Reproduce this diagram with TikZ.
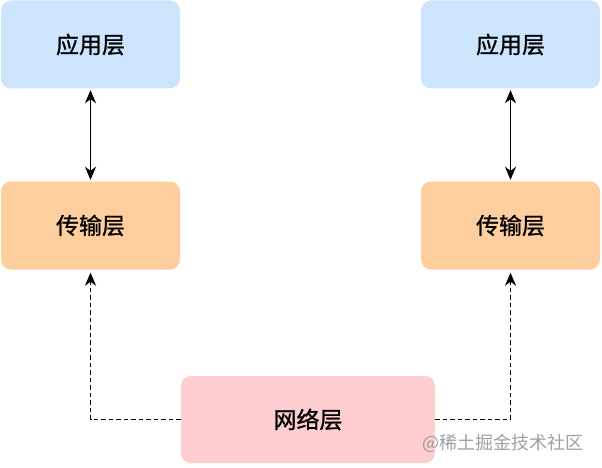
\documentclass[tikz,border=0pt]{standalone}
\usepackage{fontspec}
\setmainfont{Noto Sans CJK SC}
\newfontfamily\layerfont[FakeBold=0.9]{Noto Sans CJK SC}
\usetikzlibrary{arrows.meta,positioning}

\definecolor{appblue}{RGB}{204,228,252}
\definecolor{tcporange}{RGB}{255,206,158}
\definecolor{netpink}{RGB}{253,205,208}

\begin{document}
\begin{tikzpicture}[x=1pt,y=1pt,
  >={Stealth[length=13pt,width=11pt,inset=4pt]},
  layer/.style={rounded corners=10pt, minimum width=179pt, minimum height=88pt,
    inner sep=0pt, font=\layerfont\fontsize{23}{27}\selectfont},
  link/.style={line width=1.8pt, shorten <=1.5pt, shorten >=1.5pt}]
  \useasboundingbox (0,0) rectangle (602,467);

  \node[layer, fill=appblue] (appL) at (90.5,422.5) {应用层};
  \node[layer, fill=appblue] (appR) at (510.5,422.5) {应用层};
  \node[layer, fill=tcporange] (tcpL) at (90.5,241.5) {传输层};
  \node[layer, fill=tcporange] (tcpR) at (510.5,241.5) {传输层};
  \node[layer, fill=netpink, minimum width=254pt, minimum height=87pt] (net) at (308,47.5) {网络层};

  \draw[link, <->] (appL) -- (tcpL);
  \draw[link, <->] (appR) -- (tcpR);

  \draw[link, shorten <=0pt, shorten >=3pt, dash pattern=on 4.5pt off 3pt, ->] (net.west) -| (tcpL.south);
  \draw[link, shorten <=0pt, shorten >=3pt, dash pattern=on 4.5pt off 3pt, ->] (net.east) -| (tcpR.south);

  \node[text=gray!75, font=\fontsize{18}{21}\selectfont, anchor=east] (mark) at (587,24) {@稀土掘金技术社区};
\end{tikzpicture}
\end{document}
